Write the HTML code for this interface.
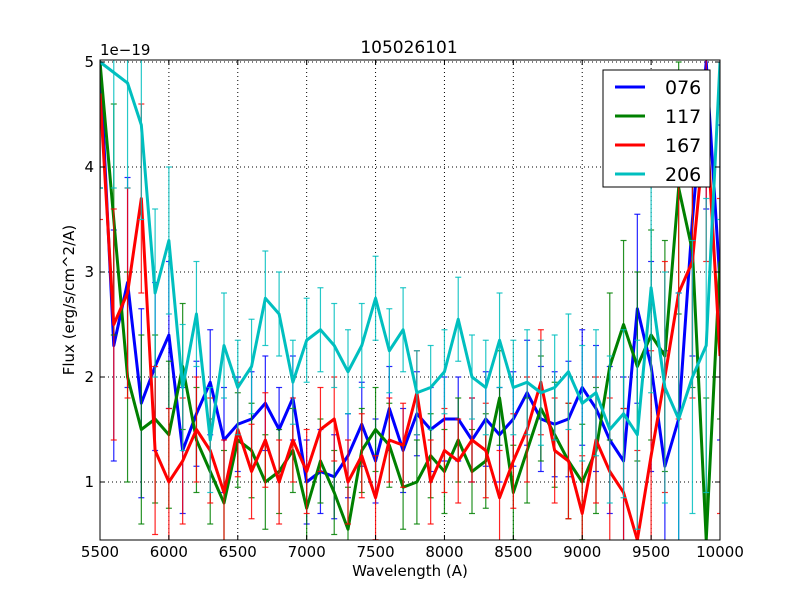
<!DOCTYPE html>
<html><head><meta charset="utf-8"><style>
html,body{margin:0;padding:0;background:#fff;overflow:hidden;width:800px;height:600px}
svg{display:block}
svg text{font-family:"DejaVu Sans","Liberation Sans",sans-serif}
</style></head><body>
<svg id="chart" width="800" height="600" xmlns="http://www.w3.org/2000/svg">
<rect width="800" height="600" fill="#fff"/>
<defs><clipPath id="pc"><rect x="100" y="60" width="620" height="480"/></clipPath></defs>
<g id="grid"></g>
<g id="series" clip-path="url(#pc)"></g>
<rect x="100" y="60" width="620" height="480" fill="none" stroke="#000" stroke-width="1"/>
<g id="ticks"></g>
<text x="409" y="53" font-size="17" text-anchor="middle">105026101</text>
<text x="100" y="55" font-size="15">1e−19</text>
<text x="410" y="576" font-size="15" text-anchor="middle">Wavelength (A)</text>
<text x="74" y="300" font-size="15" text-anchor="middle" transform="rotate(-90 74 300)">Flux (erg/s/cm^2/A)</text>
<g id="legend">
<rect x="603" y="70" width="107" height="117" fill="#fff" stroke="#000" stroke-width="1"/>
</g>
</svg>
<script>
const wavelengths=[5500,5600,5700,5800,5900,6000,6100,6200,6300,6400,6500,6600,6700,6800,6900,7000,7100,7200,7300,7400,7500,7600,7700,7800,7900,8000,8100,8200,8300,8400,8500,8600,8700,8800,8900,9000,9100,9200,9300,9400,9500,9600,9700,9800,9900,10000];
const flux076=[5.0,2.3,2.9,1.75,2.1,2.4,1.3,1.65,1.95,1.4,1.55,1.6,1.75,1.5,1.8,1.0,1.1,1.05,1.25,1.55,1.2,1.7,1.3,1.65,1.5,1.6,1.6,1.4,1.6,1.45,1.6,1.85,1.6,1.55,1.6,1.9,1.7,1.4,1.2,2.65,2.1,1.15,1.6,3.5,5.0,2.9];
const flux117=[5.0,3.5,2.0,1.5,1.6,1.45,2.1,1.4,1.1,0.8,1.4,1.3,1.0,1.1,1.3,0.75,1.2,0.9,0.55,1.3,1.5,1.35,0.95,1.0,1.25,1.1,1.4,1.1,1.2,1.8,0.9,1.3,1.7,1.45,1.2,1.0,1.3,2.1,2.5,2.1,2.4,2.2,3.8,3.2,0.4,3.1];
const flux167=[4.7,2.5,2.8,3.7,1.3,1.0,1.2,1.5,1.3,0.9,1.5,1.1,1.4,1.0,1.4,1.1,1.5,1.6,1.0,1.25,0.85,1.4,1.35,1.85,1.0,1.3,1.2,1.4,1.3,0.85,1.2,1.5,1.95,1.3,1.2,0.7,1.4,1.1,0.9,0.4,1.25,2.0,2.8,3.1,4.5,2.2];
const flux206=[5.0,4.9,4.8,4.4,2.8,3.3,1.9,2.6,1.4,2.3,1.9,2.1,2.75,2.6,1.95,2.35,2.45,2.3,2.05,2.3,2.75,2.25,2.45,1.85,1.9,2.05,2.55,2.0,1.9,2.35,1.9,1.95,1.85,1.9,2.05,1.75,1.85,1.5,1.65,1.45,2.85,1.9,1.6,2.0,2.3,5.0];
const errors=[1.2,1.1,1.0,0.9,0.8,0.7,0.6,0.5,0.5,0.5,0.45,0.45,0.45,0.4,0.4,0.4,0.4,0.4,0.4,0.4,0.4,0.4,0.4,0.4,0.4,0.4,0.4,0.4,0.45,0.45,0.45,0.5,0.5,0.5,0.55,0.55,0.6,0.7,0.8,0.9,1.0,1.1,1.2,1.3,1.4,1.5];
const seriesNames=["076","117","167","206"];
const seriesColors=["#0000ff","#008000","#ff0000","#00bfbf"];
const xTicks=[5500,6000,6500,7000,7500,8000,8500,9000,9500,10000];
const yTicks=[1,2,3,4,5];
const allSeries=[flux076,flux117,flux167,flux206];
const NS="http://www.w3.org/2000/svg";
function xs(v){return 100+(v-5500)/4500*620;}
function ys(v){return 482-(v-1)*105;}
function clampY(y){return Math.max(60,Math.min(540,y));}
function mk(tag,attrs,parent){const e=document.createElementNS(NS,tag);for(const k in attrs)e.setAttribute(k,attrs[k]);parent.appendChild(e);return e;}
const grid=document.getElementById('grid'),ticks=document.getElementById('ticks'),ser=document.getElementById('series'),leg=document.getElementById('legend');
xTicks.forEach(t=>{const x=xs(t);
 const g=mk('line',{x1:x,x2:x,y1:60,y2:540,stroke:'#000','stroke-dasharray':'1,3','stroke-width':1},grid);
 
 
 mk('line',{x1:x,x2:x,y1:540,y2:535,stroke:'#000'},ticks);
 mk('line',{x1:x,x2:x,y1:60,y2:65,stroke:'#000'},ticks);
 const l=mk('text',{x:x,y:557,'font-size':15,'text-anchor':'middle'},ticks);l.textContent=t;
 
 
});
yTicks.forEach(t=>{const y=ys(t);
 const g=mk('line',{x1:100,x2:720,y1:y,y2:y,stroke:'#000','stroke-dasharray':'1,3','stroke-width':1},grid);
 
 
 mk('line',{x1:100,x2:105,y1:y,y2:y,stroke:'#000'},ticks);
 mk('line',{x1:715,x2:720,y1:y,y2:y,stroke:'#000'},ticks);
 const l=mk('text',{x:94,y:y+5,'font-size':15,'text-anchor':'end'},ticks);l.textContent=t;
 
 
});
allSeries.forEach((vals,si)=>{
 const c=seriesColors[si];
 const g=mk('g',{},ser);
 
 
 vals.forEach((v,i)=>{const x=xs(wavelengths[i]),e=errors[i];
  const y1r=ys(v-e),y2r=ys(v+e);
  const y1=clampY(y1r),y2=clampY(y2r);
  mk('line',{x1:x,x2:x,y1:y1,y2:y2,stroke:c,'stroke-width':1.2,opacity:0.85},g);
  if(y1r<=540) mk('line',{x1:x-3,x2:x+3,y1:y1,y2:y1,stroke:c,'stroke-width':1.2,opacity:0.85},g);
  if(y2r>=60) mk('line',{x1:x-3,x2:x+3,y1:y2,y2:y2,stroke:c,'stroke-width':1.2,opacity:0.85},g);
 });
 const p=mk('polyline',{points:vals.map((v,i)=>xs(wavelengths[i])+','+clampY(ys(v))).join(' '),fill:'none',stroke:c,'stroke-width':3,'stroke-linejoin':'round'},g);
 
 
 const y=87+si*29;
 mk('line',{x1:615,x2:645,y1:y,y2:y,stroke:c,'stroke-width':3},leg);
 const t=mk('text',{x:665,y:y+7,'font-size':19},leg);t.textContent=seriesNames[si];
 
 
});
</script>
</body></html>
